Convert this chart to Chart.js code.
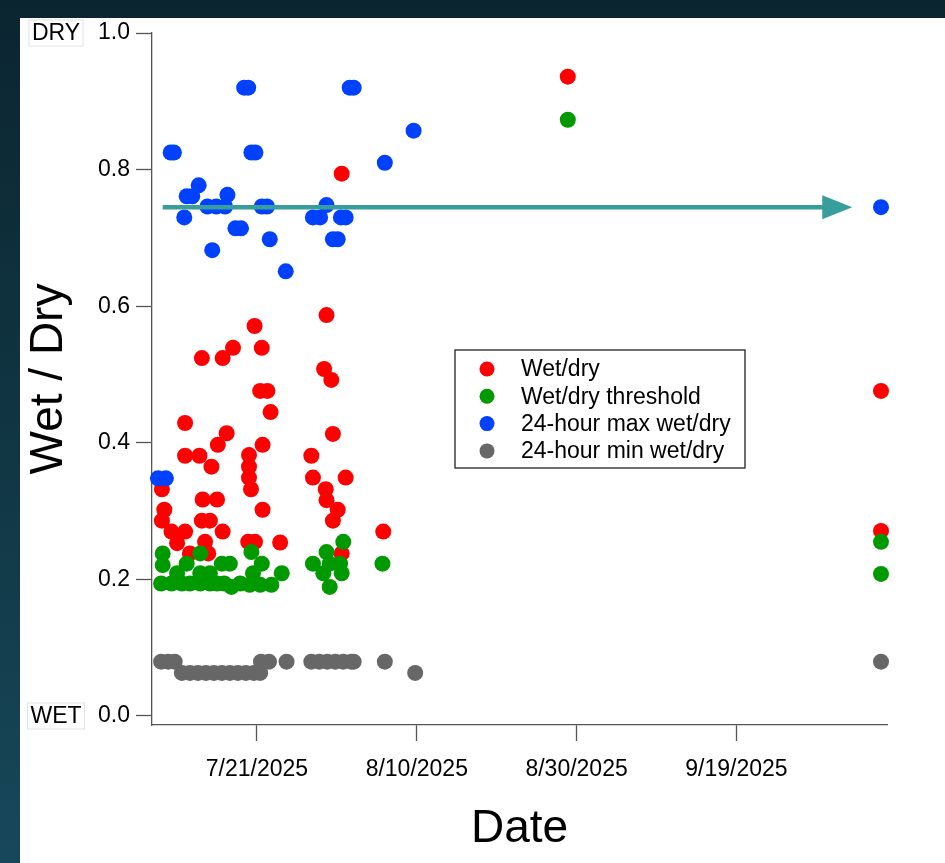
<!DOCTYPE html>
<html>
<head>
<meta charset="utf-8">
<script src="https://cdn.jsdelivr.net/npm/chart.js@4.4.1/dist/chart.umd.min.js"></script>
<style>
  html, body { margin: 0; padding: 0; }
  body {
    width: 945px; height: 863px; overflow: hidden; position: relative;
    background: linear-gradient(to bottom, #0b2530 0%, #113745 55%, #17485a 100%);
  }
  #panel { position: absolute; left: 20px; top: 18px; width: 925px; height: 845px; background: #ffffff; }
</style>
</head>
<body>
<div id="panel"><canvas id="chart" width="925" height="845"></canvas></div>
<script>
// x = days since 7/21/2025, y = wet/dry ratio
const wetDryX = [-11.9, -11.6, -11.9, -10.7, -9.0, -10.0, -8.4, -6.1, -9.0, -9.0, -7.2, -5.7, -6.8, -5.0, -6.9, -5.9, -4.3, -6.5,
  -6.9, -4.3, -3.0, -3.8, -4.9, -0.3, 0.6, 0.4, 1.3, 1.7, 0.7, -1.0, -1.0, -1.0, -0.75, 0.7, -1.1, -0.25, 2.9,
  8.7, 8.4, 9.3, 9.5, 6.8, 7.0, 11.1, 8.6, 8.7, 10.1, 9.5, 10.6, 10.6, 15.8, 38.9, 78.1, 78.1];
const wetDryY = [0.332, 0.302, 0.286, 0.270, 0.270, 0.253, 0.238, 0.238, 0.429, 0.381, 0.381, 0.365, 0.317, 0.317, 0.286, 0.286, 0.270, 0.255,
  0.524, 0.524, 0.539, 0.414, 0.397, 0.571, 0.539, 0.476, 0.476, 0.445, 0.397, 0.382, 0.365, 0.349, 0.332, 0.302, 0.255, 0.255, 0.254,
  0.587, 0.508, 0.492, 0.413, 0.381, 0.349, 0.349, 0.332, 0.316, 0.302, 0.286, 0.238, 0.794, 0.270, 0.936, 0.476, 0.271];

const thresholdX = [-11.8, -11.8, -12.0, -10.7, -10.0, -9.4, -8.8, -8.4, -7.1, -7.1, -7.1, -5.9, -5.9, -5.0, -4.4, -3.4, -3.2, -4.1, -2.1,
  -0.7, 0.6, -0.5, -0.9, 0.4, 1.8, 3.1, 7.0, 8.7, 9.1, 10.4, 10.6, 8.3, 9.1, 10.8, 15.7, 38.9, 78.1, 78.1];
const thresholdY = [0.238, 0.221, 0.194, 0.194, 0.209, 0.194, 0.223, 0.194, 0.238, 0.209, 0.194, 0.209, 0.194, 0.194, 0.223, 0.223, 0.189, 0.194, 0.194,
  0.240, 0.223, 0.209, 0.192, 0.192, 0.192, 0.209, 0.223, 0.240, 0.223, 0.223, 0.209, 0.209, 0.189, 0.255, 0.223, 0.873, 0.255, 0.208];

const maxX = [-12.4, -11.4, -10.8, -10.4, -9.1, -8.8, -8.1, -7.3, -5.6, -6.2, -5.1, -4.0, -3.7, -2.7, -2.0, -1.6, -1.1, -0.7, -0.2,
  0.6, 1.25, 1.6, 3.6, 7.0, 7.9, 8.7, 10.5, 11.1, 9.5, 10.1, 11.6, 12.1, 16.0, 19.6, 78.1];
const maxY = [0.348, 0.348, 0.825, 0.825, 0.730, 0.761, 0.761, 0.777, 0.682, 0.746, 0.746, 0.746, 0.763, 0.714, 0.714, 0.920, 0.920, 0.825, 0.825,
  0.746, 0.746, 0.698, 0.651, 0.730, 0.730, 0.748, 0.730, 0.730, 0.698, 0.698, 0.920, 0.920, 0.810, 0.857, 0.745];

const minX = [-12.0, -11.1, -10.3, -9.4, -8.4, -7.4, -6.4, -5.4, -4.4, -3.4, -2.4, -1.4, -0.4, 0.4, 0.5, 1.5, 3.7,
  6.8, 7.8, 8.8, 9.8, 10.8, 11.8, 12.1, 16.0, 19.8, 78.1];
const minY = [0.0795, 0.0795, 0.0795, 0.063, 0.063, 0.063, 0.063, 0.063, 0.063, 0.063, 0.063, 0.063, 0.063, 0.063, 0.0795, 0.0795, 0.0795,
  0.0795, 0.0795, 0.0795, 0.0795, 0.0795, 0.0795, 0.0795, 0.0795, 0.063, 0.0795];

const xTickDays = [0, 20, 40, 60];
const xTickLabels = ['7/21/2025', '8/10/2025', '8/30/2025', '9/19/2025'];
const yTicks = [0.0, 0.2, 0.4, 0.6, 0.8, 1.0];

// arrow marking the 24-hour max level
const arrowLevel = 0.745;
const arrowStart = -11.8;
const arrowEnd = 74.5;

const FONT = "'Liberation Sans', Arial, sans-serif";

function pts(xs, ys) {
  return xs.map((x, i) => ({ x: x, y: ys[i] }));
}

const arrowPlugin = {
  id: 'arrow',
  afterDatasetsDraw(chart) {
    const ctx = chart.ctx, xs = chart.scales.x, ys = chart.scales.y;
    const y = ys.getPixelForValue(arrowLevel);
    const x0 = xs.getPixelForValue(arrowStart);
    const x1 = xs.getPixelForValue(arrowEnd);
    ctx.save();
    ctx.strokeStyle = '#379e9c';
    ctx.fillStyle = '#379e9c';
    ctx.lineWidth = 4.5;
    ctx.beginPath();
    ctx.moveTo(x0, y);
    ctx.lineTo(x1 - 28, y);
    ctx.stroke();
    ctx.beginPath();
    ctx.moveTo(x1, y);
    ctx.lineTo(x1 - 30, y - 12);
    ctx.lineTo(x1 - 30, y + 12);
    ctx.closePath();
    ctx.fill();
    ctx.restore();
  }
};

const sideLabels = {
  id: 'sideLabels',
  afterDraw(chart) {
    const ctx = chart.ctx, ys = chart.scales.y;
    ctx.save();
    ctx.font = '23px ' + FONT;
    ctx.textAlign = 'center';
    ctx.textBaseline = 'middle';
    [['DRY', 1.0], ['WET', 0.0]].forEach(([t, v]) => {
      const y = ys.getPixelForValue(v);
      const w = ctx.measureText(t).width + 6;
      ctx.strokeStyle = '#e2e2e2';
      ctx.lineWidth = 1;
      ctx.strokeRect(36 - w / 2, y - 13, w, 26);
      ctx.fillStyle = '#000';
      ctx.fillText(t, 36, y + 1);
    });
    ctx.restore();
  }
};

const boxLegend = {
  id: 'boxLegend',
  afterDraw(chart) {
    const ctx = chart.ctx;
    const left = 435, top = 332, w = 290, h = 118;
    ctx.save();
    ctx.fillStyle = '#fff';
    ctx.fillRect(left, top, w, h);
    ctx.strokeStyle = '#222';
    ctx.lineWidth = 1.3;
    ctx.strokeRect(left, top, w, h);
    ctx.font = '23px ' + FONT;
    ctx.textBaseline = 'middle';
    chart.data.datasets.forEach((ds, i) => {
      const y = top + 19 + i * 27.3;
      ctx.fillStyle = ds.backgroundColor;
      ctx.beginPath();
      ctx.arc(left + 32, y, 7.5, 0, Math.PI * 2);
      ctx.fill();
      ctx.fillStyle = '#000';
      ctx.fillText(ds.label, left + 66, y + 1);
    });
    ctx.restore();
  }
};

function makeSet(label, xs, ys, color, order) {
  return {
    label: label,
    data: pts(xs, ys),
    backgroundColor: color,
    borderWidth: 0,
    pointRadius: 8,
    pointHoverRadius: 8,
    order: order,
    clip: false
  };
}

new Chart(document.getElementById('chart'), {
  type: 'scatter',
  data: {
    datasets: [
      makeSet('Wet/dry', wetDryX, wetDryY, '#ff0000', 3),
      makeSet('Wet/dry threshold', thresholdX, thresholdY, '#009a00', 2),
      makeSet('24-hour max wet/dry', maxX, maxY, '#0040ff', 1),
      makeSet('24-hour min wet/dry', minX, minY, '#676767', 0)
    ]
  },
  options: {
    responsive: false,
    animation: false,
    devicePixelRatio: 1,
    layout: { padding: { top: 15, right: 58, left: 0, bottom: 0 } },
    plugins: { legend: { display: false }, tooltip: { enabled: false } },
    scales: {
      x: {
        type: 'linear',
        min: -13.14,
        max: 78.85,
        afterBuildTicks: s => { s.ticks = xTickDays.map(v => ({ value: v })); },
        afterFit: s => { s.height = 138; s.paddingLeft = 0; s.paddingRight = 0; },
        ticks: {
          autoSkip: false, maxRotation: 0, padding: 15, color: '#000',
          font: { family: FONT, size: 23 },
          callback: v => xTickLabels[xTickDays.indexOf(v)]
        },
        grid: { drawOnChartArea: false, drawTicks: true, tickLength: 16, tickWidth: 1.3, color: '#555' },
        border: { display: true, color: '#555', width: 1.3 },
        title: { display: true, text: 'Date', color: '#000', font: { family: FONT, size: 46 }, padding: { top: 0, bottom: 6 } }
      },
      y: {
        min: -0.0132,
        max: 1.0,
        afterBuildTicks: s => { s.ticks = yTicks.map(v => ({ value: v })); },
        afterFit: s => { s.width = 132; s.paddingTop = 0; s.paddingBottom = 0; },
        ticks: {
          padding: 6, color: '#000',
          font: { family: FONT, size: 23 },
          callback: v => v.toFixed(1)
        },
        grid: { drawOnChartArea: false, drawTicks: true, tickLength: 16, tickWidth: 1.3, color: '#555' },
        border: { display: true, color: '#555', width: 1.3 },
        title: { display: true, text: 'Wet / Dry', color: '#000', font: { family: FONT, size: 46 }, padding: { top: 2, bottom: 0 } }
      }
    }
  },
  plugins: [arrowPlugin, sideLabels, boxLegend]
});
</script>
</body>
</html>
